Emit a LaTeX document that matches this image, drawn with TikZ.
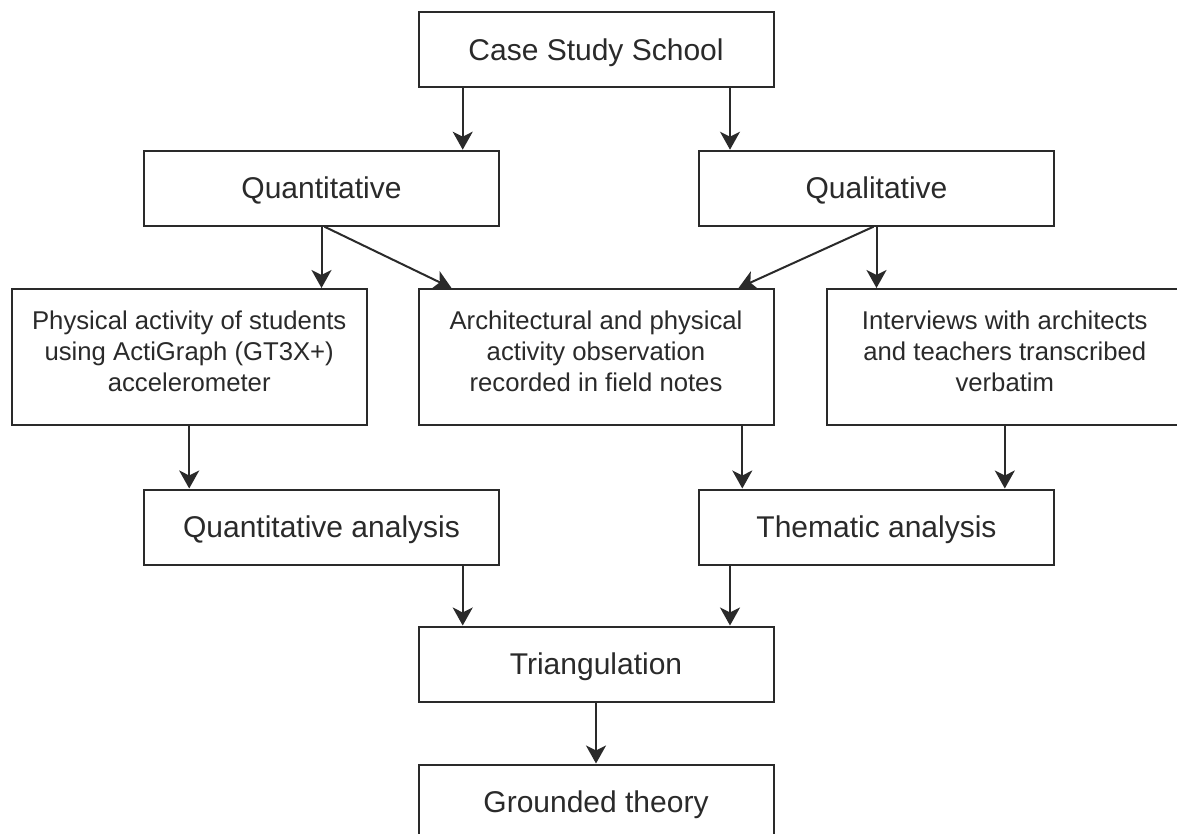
\documentclass[tikz,border=0pt]{standalone}
\usepackage{fontspec}
\setmainfont{Liberation Sans}
\usetikzlibrary{arrows.meta,calc}
\definecolor{ink}{HTML}{2A2A2A}
\begin{document}
\begin{tikzpicture}[x=0.5pt,y=-0.5pt,
  box/.style={draw=ink, line width=1pt, rectangle, minimum width=177.5pt, inner sep=0pt, text=ink},
  sbox/.style={box, minimum height=37.5pt, font=\fontsize{15}{18}\selectfont, text height=10.7pt, text depth=0pt},
  mbox/.style={box, minimum height=68pt, align=center, font=\fontsize{12.85}{15.4}\selectfont},
  arr/.style={draw=ink, line width=1pt, -{Stealth[length=9pt,width=10pt,inset=2.5pt]}}]
\fill[white] (0,0) rectangle (1177,834);
\useasboundingbox (0,0) rectangle (1177,834);

\node[sbox] (css) at (596,50) {Case Study School};
\node[sbox] (quant) at (321.5,188.2) {Quantitative};
\node[sbox] (qual) at (876.5,188.2) {Qualitative};
\node[mbox] (phys) at (189.2,357) {Physical activity of students\\using ActiGraph (GT3X+)\\accelerometer\rule[-6pt]{0pt}{0pt}};
\node[mbox] (arch) at (596,357) {Architectural and physical\\activity observation\\recorded in field notes\rule[-6pt]{0pt}{0pt}};
\node[mbox] (intv) at (1004.8,357) {Interviews with architects\\and teachers transcribed\\verbatim\rule[-6pt]{0pt}{0pt}};
\node[sbox] (qa) at (321.5,527) {Quantitative analysis};
\node[sbox] (ta) at (876.5,527) {Thematic analysis};
\node[sbox] (tri) at (596,664) {Triangulation};
\node[sbox] (gt) at (596,802) {Grounded theory};

\draw[arr] ([xshift=-66.65pt]css.south) -- ([xshift=-66.65pt]css.south |- quant.north);
\draw[arr] ([xshift=67pt]css.south) -- ([xshift=67pt]css.south |- qual.north);
\draw[arr] (quant.south) -- (quant.south |- phys.north);
\draw[arr] ([xshift=1.5pt]quant.south) -- ([xshift=17pt]arch.north west);
\draw[arr] ([xshift=-1.5pt]qual.south) -- ([xshift=-18pt]arch.north east);
\draw[arr] (qual.south) -- (qual.south |- intv.north);
\draw[arr] (phys.south) -- (phys.south |- qa.north);
\draw[arr] ([xshift=73.15pt]arch.south) -- ([xshift=73.15pt]arch.south |- ta.north);
\draw[arr] (intv.south) -- (intv.south |- ta.north);
\draw[arr] ([xshift=-66.65pt]tri.north |- qa.south) -- ([xshift=-66.65pt]tri.north);
\draw[arr] ([xshift=67pt]tri.north |- ta.south) -- ([xshift=67pt]tri.north);
\draw[arr] (tri.south) -- (gt.north);
\end{tikzpicture}
\end{document}
